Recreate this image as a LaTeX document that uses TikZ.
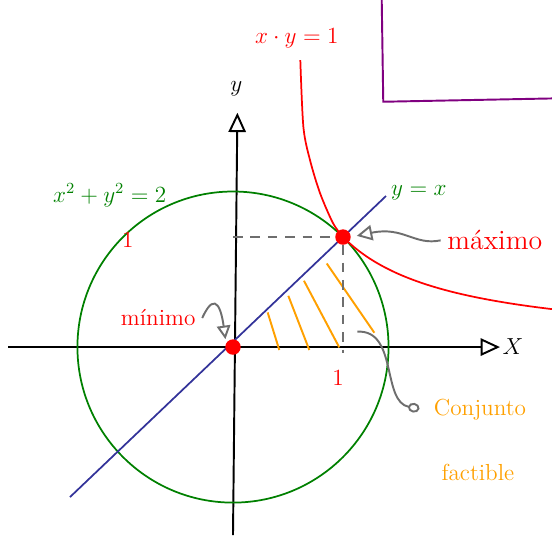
\documentclass[tikz,border=0pt]{standalone}
\usepackage{tikz}
\usetikzlibrary{arrows.meta}
\definecolor{circgreen}{RGB}{0,128,0}
\definecolor{diagblue}{RGB}{51,51,153}
\definecolor{hatchorange}{RGB}{255,160,0}
\definecolor{notegray}{RGB}{110,110,110}
\definecolor{boxpurple}{RGB}{128,0,128}

\begin{document}
\begin{tikzpicture}[x=2cm,y=2cm,
    axis/.style={line width=1pt,-{Triangle[open,length=10pt,width=9pt]}},
    note/.style={notegray,line width=1pt},
    dot/.style={circle,fill=red,inner sep=0pt,minimum size=8pt},
    lbl/.style={font=\large}]
    \useasboundingbox (-2.118,-1.736) rectangle (2.9,3.155);
    \draw[boxpurple,line width=1pt] (1.352,3.155)--(1.366,2.23)--(2.9,2.26);
    \draw[axis] (-2.045,0)--(2.427,0);
    \draw[axis] (0,-1.71)--(0.04,2.13);
    \node[lbl] (xlbl) at (2.545,0) {$X$};
    \node[lbl] (ylbl) at (0.03,2.35) {$y$};
    \draw[circgreen,line width=0.9pt] (0,0) circle (1.414);
    \draw[diagblue,line width=0.9pt] (-1.482,-1.364)--(1.391,1.373);
    \draw[hatchorange,line width=1pt] (0.315,0.315)--(0.421,-0.027);
    \draw[hatchorange,line width=1pt] (0.503,0.466)--(0.694,-0.027);
    \draw[hatchorange,line width=1pt] (0.645,0.603)--(0.966,-0.003);
    \draw[hatchorange,line width=1pt] (0.852,0.76)--(1.285,0.13);
    \draw[red,line width=0.9pt] plot[smooth] coordinates {(0.612,2.609) (0.64,2.0) (0.7,1.7) (0.791,1.4) (0.909,1.127) (1,1)};
    \draw[red,line width=0.9pt] plot[domain=1:2.9,samples=40] (\x,{1/\x});
    \node[dot] (max) at (1,1) {};
    \node[dot] (min) at (0,0) {};
    \draw[note,dash pattern=on 5pt off 4pt] (0,1)--(max);
    \draw[note,dash pattern=on 5pt off 4pt] (max)--(1,-0.05);
    \node[lbl,red] (xy) at (0.58,2.81) {$x\cdot y=1$};
    \node[lbl,circgreen] (circ) at (-1.12,1.38) {$x^2+y^2=2$};
    \node[lbl,circgreen] (diag) at (1.69,1.4) {$y=x$};
    \node[lbl,red] (oney) at (-0.955,0.973) {1};
    \node[lbl,red] (onex) at (0.955,-0.28) {1};
    \node[red,font=\Large] (maxlbl) at (2.38,0.97) {máximo};
    \node[lbl,red] (minlbl) at (-0.68,0.264) {mínimo};
    \node[lbl,hatchorange] (conj) at (2.245,-0.573) {Conjunto};
    \node[lbl,hatchorange] (fact) at (2.227,-1.136) {factible};
    \coordinate (feas) at (1.13,0.14);
    \draw[note,-{Triangle[open,length=8pt,width=8pt]},shorten >=3pt] (maxlbl.west) .. controls (1.65,0.92) and (1.55,1.1) .. (max.east);
    \draw[note,-{Triangle[open,length=7pt,width=7pt]},shorten >=2pt] (minlbl.east) .. controls (-0.15,0.55) and (-0.1,0.3) .. (min.150);
    \draw[note,-{Circle[open,length=6pt,width=5pt]},shorten >=4pt] (feas) .. controls (1.5,0.16) and (1.35,-0.5) .. (conj.west);
\end{tikzpicture}
\end{document}
